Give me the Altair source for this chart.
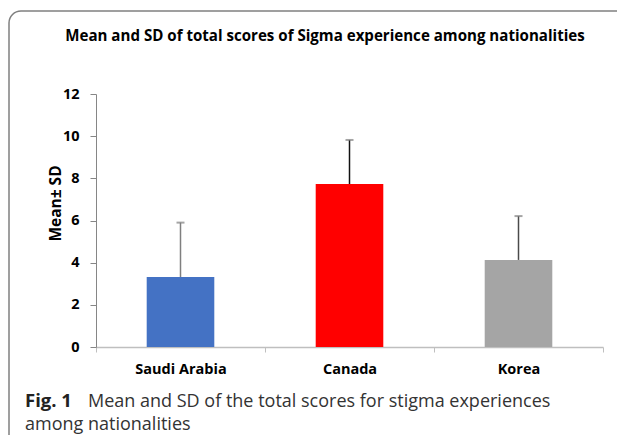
import math
import altair as alt
import pandas as pd

countries = ["Saudi Arabia", "Canada", "Korea"]
means = [3.32, 7.73, 4.13]
sds = [2.58, 2.09, 2.08]
colors = ["#4472C4", "#FF0000", "#A5A5A5"]
err_colors = ["#7F7F7F", "#111111", "#4A4A4A"]
y_ticks = [0, 2, 4, 6, 8, 10, 12]

title_text = "Mean and SD of total scores of Sigma experience among nationalities"
cap_bold = "Fig. 1"
cap_line1 = "Mean and SD of the total scores for stigma experiences"
cap_line2 = "among nationalities"

df = pd.DataFrame({"country": countries, "mean": means, "sd": sds,
                   "color": colors, "ecolor": err_colors})
df["upper"] = df["mean"] + df["sd"]

W, H = 507, 253
LABEL_FONT = "Open Sans"
CAP_FONT = "Open Sans"
FRAME = "#7f7f7f"

xenc = alt.X("country:N", sort=countries,
             scale=alt.Scale(paddingInner=0, paddingOuter=0),
             axis=alt.Axis(title=None, labelAngle=0, labelFont=LABEL_FONT, labelFontSize=14.5,
                           labelFontWeight="bold", labelColor="#000000", labelPadding=10,
                           tickBand="extent", tickSize=5, tickColor="#BFBFBF",
                           domainColor="#BFBFBF", domainWidth=1.5, grid=False))

yscale = alt.Scale(domain=[0, 12], nice=False)

bars = alt.Chart(df).mark_bar(width=alt.RelativeBandSize(0.4)).encode(
    x=xenc,
    y=alt.Y("mean:Q", scale=yscale,
            axis=alt.Axis(values=y_ticks, title="Mean\u00b1 SD", titleFont=LABEL_FONT,
                          titleFontSize=15.5, titleFontWeight="bold", titleColor="#000000",
                          titleX=-41, titleY=109, titleAngle=270, titleAlign="center",
                          titleBaseline="middle",
                          labelFont=LABEL_FONT, labelFontSize=14.5, labelFontWeight="bold",
                          labelColor="#000000", labelPadding=11, tickSize=6,
                          tickColor="#868686", domainColor="#868686", grid=False)),
    color=alt.Color("color:N", scale=None),
)

err = alt.Chart(df).mark_rule(strokeWidth=1.5).encode(
    x=alt.X("country:N", sort=countries),
    y=alt.Y("mean:Q", scale=yscale),
    y2="upper:Q",
    color=alt.Color("ecolor:N", scale=None),
)
caps = alt.Chart(df).mark_tick(color="#7F7F7F", size=8, thickness=2).encode(
    x=alt.X("country:N", sort=countries),
    y=alt.Y("upper:Q", scale=yscale),
)

one = pd.DataFrame({"t": [0]})
frame_top = alt.Chart(one).mark_rule(color=FRAME, strokeWidth=1.5).encode(
    x=alt.value(-75), x2=alt.value(560), y=alt.value(-83))
frame_left = alt.Chart(one).mark_rule(color=FRAME, strokeWidth=1.5).encode(
    x=alt.value(-87), y=alt.value(-71), y2=alt.value(360))
frame_corner = alt.Chart(one).mark_arc(
    radius=12, radius2=12, theta=1.5 * math.pi, theta2=2 * math.pi,
    fill=None, stroke=FRAME, strokeWidth=1.5).encode(
    x=alt.value(-75), y=alt.value(-71))

title = alt.Chart(pd.DataFrame({"t": [title_text]})).mark_text(
    font=LABEL_FONT, fontSize=15.1, fontWeight="bold", color="#000000",
    align="center", baseline="alphabetic").encode(
    text="t:N", x=alt.value(229), y=alt.value(-53))

capb = alt.Chart(pd.DataFrame({"t": [cap_bold]})).mark_text(
    font=CAP_FONT, fontSize=18.5, fontWeight="bold", color="#222222",
    align="left", baseline="alphabetic").encode(
    text="t:N", x=alt.value(-71), y=alt.value(313))
cap1 = alt.Chart(pd.DataFrame({"t": [cap_line1]})).mark_text(
    font=CAP_FONT, fontSize=18, color="#333333",
    align="left", baseline="alphabetic").encode(
    text="t:N", x=alt.value(-8), y=alt.value(313))
cap2 = alt.Chart(pd.DataFrame({"t": [cap_line2]})).mark_text(
    font=CAP_FONT, fontSize=18, color="#333333",
    align="left", baseline="alphabetic").encode(
    text="t:N", x=alt.value(-71), y=alt.value(336))

chart = alt.layer(frame_top, frame_left, frame_corner, bars, err, caps,
                  title, capb, cap1, cap2).properties(
    width=W, height=H,
    background="white",
    autosize=alt.AutoSizeParams(type="none"),
    padding={"left": 88, "top": 86, "right": 14, "bottom": 88},
).configure_view(stroke=None)

chart.save("out.html", embed_options={"renderer": "svg", "actions": False})
